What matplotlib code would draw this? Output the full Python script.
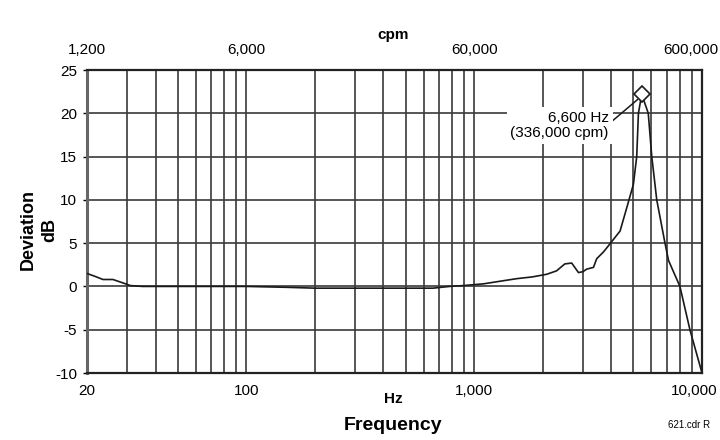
import matplotlib
matplotlib.use("Agg")
import matplotlib.pyplot as plt
import matplotlib.transforms as mtransforms
from matplotlib.ticker import FixedLocator, NullFormatter

# ---- data ----
freq_hz = [20, 22, 23.5, 26, 28.8, 31, 35, 50, 100, 150, 200, 300, 400, 500, 660,
           780, 900, 1100, 1300, 1540, 1800, 2080, 2300, 2500, 2680, 2870, 3000,
           3120, 3340, 3450, 3700, 3940, 4370, 4700, 5000, 5170, 5260, 5440,
           5810, 6020, 6330, 6880, 7130, 8000, 8850, 10000]
dev_db = [1.5, 1.1, 0.8, 0.8, 0.4, 0.1, 0.0, 0.0, 0.0, -0.1, -0.2, -0.2, -0.2, -0.2, -0.2,
          0.0, 0.1, 0.3, 0.6, 0.9, 1.1, 1.4, 1.8, 2.6, 2.7, 1.6, 1.7,
          2.0, 2.2, 3.2, 4.0, 4.9, 6.4, 9.3, 11.8, 15.0, 20.0, 22.2,
          20.0, 15.0, 10.0, 5.0, 3.0, 0.0, -5.0, -10.0]

bottom_ticks = [20, 100, 1000, 10000]
bottom_labels = ["20", "100", "1,000", "10,000"]
top_ticks_cpm = [1200, 6000, 60000, 600000]
top_labels = ["1,200", "6,000", "60,000", "600,000"]
y_ticks = [-10, -5, 0, 5, 10, 15, 20, 25]
minor_hz = [30, 40, 50, 60, 70, 80, 90, 200, 300, 400, 500, 600, 700, 800, 900,
            2000, 3000, 4000, 5000, 6000, 7000, 8000, 9000]
peak_hz = 5440
peak_db = 22.2
peak_text = "6,600 Hz\n(336,000 cpm)"

plt.rcParams['font.family'] = ['Liberation Sans', 'DejaVu Sans']

fig = plt.figure(figsize=(7.2, 4.4), dpi=100)
ax = fig.add_axes([87/720, 1-373/440, (702-87)/720, (373-70)/440])

ax.set_xscale('log')
ax.set_xlim(20, 10000)
ax.set_ylim(-10, 25)

ax.xaxis.set_major_locator(FixedLocator(bottom_ticks))
ax.xaxis.set_minor_locator(FixedLocator(minor_hz))
ax.xaxis.set_minor_formatter(NullFormatter())
ax.set_xticklabels(bottom_labels)
ax.set_yticks(y_ticks)
ax.set_yticklabels([str(v) for v in y_ticks])

gc = '#3a3a3a'
ax.grid(True, which='both', axis='x', color=gc, lw=1.2)
ax.grid(True, which='major', axis='y', color=gc, lw=1.2)
ax.set_axisbelow(True)

ax.tick_params(axis='x', which='both', length=0, pad=8, labelsize=11)
ax.tick_params(axis='y', length=3, width=1, pad=4, labelsize=11)

for s in ax.spines.values():
    s.set_color('#222222')
    s.set_linewidth(1.6)
ax.spines['left'].set_color('#666666')
ax.spines['left'].set_linewidth(2.2)

ax.plot(freq_hz, dev_db, color='#1a1a1a', lw=1.2, zorder=3)
ax.plot([peak_hz], [peak_db], marker='D', ms=8, mfc='white', mec='#1a1a1a', mew=1.2,
        zorder=4, clip_on=False)

ax.annotate(peak_text, xy=(peak_hz * 0.96, peak_db - 0.6), xytext=(3900, 18.6),
            ha='right', va='center', fontsize=11, linespacing=1.1,
            bbox=dict(boxstyle='square,pad=0.25', fc='white', ec='none'),
            arrowprops=dict(arrowstyle='-', color='#1a1a1a', lw=1.1,
                            shrinkA=0, shrinkB=0,
                            relpos=(1.0, 0.55)),
            zorder=5)

sec = ax.secondary_xaxis('top', functions=(lambda f: f * 60.0, lambda c: c / 60.0))
sec.xaxis.set_major_locator(FixedLocator(top_ticks_cpm))
sec.xaxis.set_minor_locator(FixedLocator([]))
sec.set_xticklabels(top_labels)
sec.tick_params(axis='x', length=0, pad=9, labelsize=11)
sec.spines['top'].set_visible(False)

# keep the right-most tick labels inside the figure (they sit at the edge)
def pull_inside(axis_obj, right_px):
    labels = axis_obj.get_majorticklabels()
    lab = labels[-1]
    lab.set_horizontalalignment('right')
    off = mtransforms.ScaledTranslation(right_px / 100.0, 0, fig.dpi_scale_trans)
    lab.set_transform(lab.get_transform() + off)

pull_inside(ax.xaxis, 16)
pull_inside(sec.xaxis, 16)

fig.text(393/720, 1-35/440, "cpm", ha='center', va='center', fontsize=11, fontweight='bold')
fig.text(393/720, 1-399/440, "Hz", ha='center', va='center', fontsize=11, fontweight='bold')
fig.text(393/720, 1-425/440, "Frequency", ha='center', va='center', fontsize=14, fontweight='bold')
fig.text(28/720, 1-230/440, "Deviation", ha='center', va='center', rotation=90,
         fontsize=13, fontweight='bold')
fig.text(50/720, 1-230/440, "dB", ha='center', va='center', rotation=90,
         fontsize=13, fontweight='bold')
fig.text(668/720, 1-425/440, "621.cdr R", ha='left', va='center', fontsize=7)

fig.savefig("out.png", dpi=100)
